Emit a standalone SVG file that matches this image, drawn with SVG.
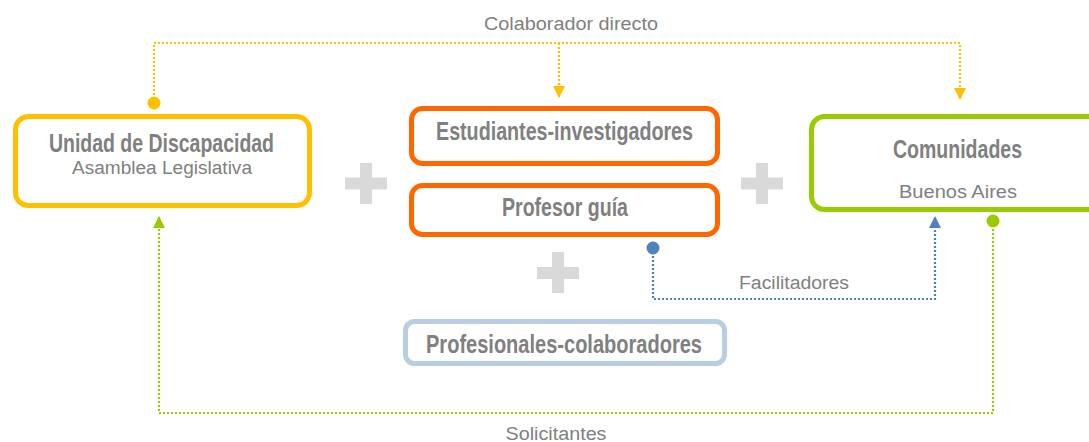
<svg xmlns="http://www.w3.org/2000/svg" width="1089" height="442" viewBox="0 0 1089 442">
<defs>
<style>
.box{fill:#fff;stroke-width:5}
.t{font-family:"Liberation Sans",Arial,sans-serif;fill:#808080;text-anchor:middle}
.b{font-weight:bold;font-size:25px}
.n{font-size:18px}
.plus{fill:#d9d9d9}
.dot{fill:none;stroke-width:2.2;stroke-dasharray:2 2}
</style>
<marker id="ay" markerUnits="userSpaceOnUse" markerWidth="14" markerHeight="12" refX="12" refY="6" orient="auto"><path d="M0,0 L12,6 L0,12 z" fill="#ffc000"/></marker>
<marker id="ab" markerUnits="userSpaceOnUse" markerWidth="14" markerHeight="12" refX="12" refY="6" orient="auto"><path d="M0,0 L12,6 L0,12 z" fill="#4f81bd"/></marker>
<marker id="ag" markerUnits="userSpaceOnUse" markerWidth="14" markerHeight="12" refX="12" refY="6" orient="auto"><path d="M0,0 L12,6 L0,12 z" fill="#99cc00"/></marker>
</defs>

<g id="connectors">
<path class="dot" stroke="#ffc000" d="M154,103 V43 H960 V100" marker-end="url(#ay)"/>
<path class="dot" stroke="#ffc000" d="M559,43 V98" marker-end="url(#ay)"/>
<circle cx="154" cy="103" r="6.5" fill="#ffc000"/>
<path class="dot" stroke="#4f81bd" d="M653,248 V299 H935 V216" marker-end="url(#ab)"/>
<circle cx="653" cy="248" r="6.5" fill="#4f81bd"/>
<path class="dot" stroke="#99cc00" d="M993,221 V413 H159 V216" marker-end="url(#ag)"/>
<circle cx="993" cy="221" r="6.5" fill="#99cc00"/>
<text class="t n" x="571" y="30" textLength="174" lengthAdjust="spacingAndGlyphs">Colaborador directo</text>
<text class="t n" x="794" y="289" textLength="110" lengthAdjust="spacingAndGlyphs">Facilitadores</text>
<text class="t n" x="556" y="440" textLength="101" lengthAdjust="spacingAndGlyphs">Solicitantes</text>
</g>

<g id="plus1" class="plus"><rect x="345" y="177.5" width="42" height="12"/><rect x="360" y="163" width="12" height="41"/></g>
<g id="plus2" class="plus"><rect x="741" y="177.5" width="42" height="12"/><rect x="756" y="163" width="12" height="41"/></g>
<g id="plus3" class="plus"><rect x="537" y="267" width="42" height="12"/><rect x="552" y="252" width="12" height="41"/></g>

<g id="unidad">
<rect class="box" x="15.5" y="116.5" width="294" height="89" rx="13" stroke="#ffc000"/>
<text class="t b" x="161.5" y="152" textLength="225" lengthAdjust="spacingAndGlyphs">Unidad de Discapacidad</text>
<text class="t n" x="162" y="174" textLength="180" lengthAdjust="spacingAndGlyphs">Asamblea Legislativa</text>
</g>

<g id="estudiantes">
<rect class="box" x="411.5" y="108.5" width="306" height="55" rx="11" stroke="#ff6600"/>
<text class="t b" x="564.5" y="140" textLength="257" lengthAdjust="spacingAndGlyphs">Estudiantes-investigadores</text>
</g>

<g id="profesor">
<rect class="box" x="411.5" y="185.5" width="306" height="49" rx="11" stroke="#ff6600"/>
<text class="t b" x="565" y="216" textLength="126" lengthAdjust="spacingAndGlyphs">Profesor guía</text>
</g>

<g id="comunidades">
<rect class="box" x="811.5" y="116.5" width="290" height="93" rx="13" stroke="#99cc00"/>
<text class="t b" x="957.5" y="158" textLength="129" lengthAdjust="spacingAndGlyphs">Comunidades</text>
<text class="t n" x="958" y="198" textLength="118" lengthAdjust="spacingAndGlyphs">Buenos Aires</text>
</g>

<g id="profesionales">
<rect class="box" x="405.5" y="321.5" width="319" height="42" rx="9" stroke="#b9cde5"/>
<text class="t b" x="564" y="353" textLength="276" lengthAdjust="spacingAndGlyphs">Profesionales-colaboradores</text>
</g>
</svg>
